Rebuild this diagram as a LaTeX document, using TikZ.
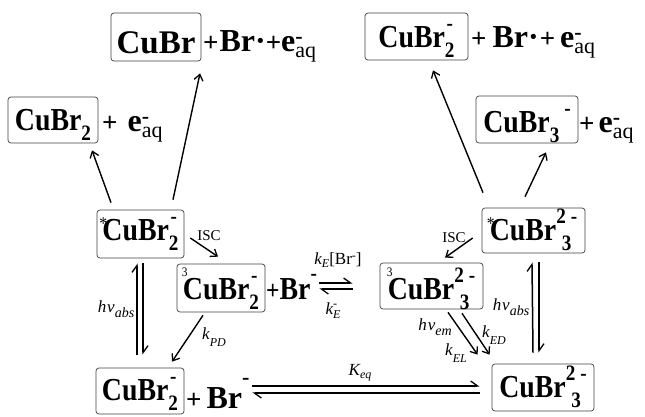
\documentclass[tikz,border=0pt]{standalone}
\usepackage{amsmath}
\usepackage{fontspec}
\setmainfont{Liberation Serif}
\newfontfamily\chemf{Liberation Serif}[FakeStretch=0.87]
\newfontfamily\chemw{Liberation Serif}
\usetikzlibrary{arrows.meta,calc}

\newcommand\chfont{\chemf\bfseries\fontsize{32}{32}\selectfont}
\newcommand\plfont{\chemw\bfseries\fontsize{32}{32}\selectfont}
\newcommand\scf{\fontsize{22}{22}\selectfont}
\newcommand\pl{{\fontsize{27}{27}\selectfont+}}
\newbox\stka \newbox\stkb \newdimen\stkw
\newcommand\sbsp[2]{%
 \setbox\stka\hbox{\scf #1}\setbox\stkb\hbox{\scf #2}%
 \stkw=\wd\stka \ifdim\wd\stkb>\stkw \stkw=\wd\stkb\fi
 \rlap{\raisebox{-10pt}{\hbox to\stkw{\hss\unhcopy\stka\hss}}}%
 \raisebox{17pt}{\hbox to\stkw{\hss\unhcopy\stkb\hss}}}
\newcommand\prestar{\makebox[0pt][l]{\kern-3pt\raisebox{11pt}{\fontsize{18}{18}\selectfont\mdseries *}}}
\newcommand\prethree{\makebox[0pt][l]{\kern-1pt\raisebox{23pt}{\fontsize{13}{13}\selectfont\mdseries 3}}}
\newcommand\eaq{e\rlap{\raisebox{8pt}{\scf -}}\raisebox{-6pt}{\scf\mdseries aq}}
\newcommand\lsc[1]{{\fontsize{12}{12}\selectfont #1}}

\tikzset{
  bx/.style={draw=black!75, line width=0.7pt, rounded corners=3pt, inner sep=0pt, font=\chfont},
  ptxt/.style={anchor=base west, inner sep=0pt, font=\plfont},
  lbl/.style={inner sep=0pt, font=\fontsize{17}{17}\selectfont\itshape},
  isc/.style={inner sep=0pt, font=\fontsize{15}{15}\selectfont},
  arr/.style={line width=1.4pt, -{Straight Barb[length=6pt,width=9pt,line width=1.3pt]}},
  harp/.style={line width=1.5pt, -{Straight Barb[harpoon,length=7pt,width=10pt,line width=1.3pt]}},
}

\begin{document}
\begin{tikzpicture}[x=1pt,y=-1pt]
\useasboundingbox (0,0) rectangle (645,416);

% boxes
\node[bx, font=\plfont\fontsize{33}{33}\selectfont, minimum width=90pt, text height=40pt, text depth=8pt] (b1) at (156,37) {CuBr};
\node[bx, minimum width=90pt, text height=33pt, text depth=13pt] (b2) at (53,120) {CuBr\raisebox{-10pt}{\scf 2}};
\node[bx, minimum width=103pt, text height=34pt, text depth=13pt] (b3) at (416.5,36.5) {CuBr\sbsp{2}{-}};
\node[bx, minimum width=102pt, text height=36pt, text depth=11pt] (b4) at (527,119.5) {CuBr\raisebox{-10pt}{\scf 3}\kern5pt\raisebox{17pt}{\scf -}};
\node[bx, minimum width=87pt, text height=30pt, text depth=18pt] (b5) at (140.5,234) {\prestar CuBr\sbsp{2}{-}};
\node[bx, minimum width=88pt, text height=35pt, text depth=13pt] (b6) at (221,288) {\prethree CuBr\sbsp{2}{-}};
\node[bx, minimum width=103pt, text height=36pt, text depth=10pt] (b7) at (431.5,286) {\prethree CuBr\sbsp{3}{2\kern5pt-}};
\node[bx, minimum width=103pt, text height=32pt, text depth=13pt] (b8) at (533.5,230.5) {\prestar CuBr\sbsp{3}{2\kern5pt-}};
\node[bx, minimum width=88pt, text height=32pt, text depth=14pt] (b9) at (140,391) {CuBr\sbsp{2}{-}};
\node[bx, minimum width=102pt, text height=33pt, text depth=14pt] (b10) at (543,387.5) {CuBr\sbsp{3}{2\kern5pt-}};

% side texts
\node[ptxt] (t1) at (203,51) {\pl\kern1pt Br·\pl\eaq};
\node[ptxt] (t2) at (102,131) {\pl\kern10pt\eaq};
\node[ptxt] (t3) at (471,47) {\pl\kern6pt Br·\kern1pt\pl\kern5pt\eaq};
\node[ptxt] (t4) at (579,132) {\pl\kern4pt\eaq};
\node[ptxt, font=\chfont] (t6) at (266,299) {\pl Br\raisebox{19pt}{\scf -}};
\node[ptxt] (t9) at (186,408) {\pl\kern5pt Br\raisebox{24pt}{\scf -}};

% labels
\node[isc] (l1) at (209,236) {ISC};
\node[isc] (l2) at (454,238) {ISC};
\node[lbl] (l3) at (338,260) {k\raisebox{-3pt}{\lsc{E}}\upshape[Br\raisebox{5pt}{\lsc{-}}]};
\node[lbl] (l4) at (333,311) {k\rlap{\raisebox{7pt}{\lsc{\upshape -}}}\raisebox{-4pt}{\lsc{E}}};
\node[lbl] (l5) at (116,309) {h\kern1pt ν\raisebox{-5pt}{\fontsize{14}{14}\selectfont abs}};
\node[lbl] (l6) at (511,307) {h\kern1pt ν\raisebox{-5pt}{\fontsize{14}{14}\selectfont abs}};
\node[lbl] (l7) at (214,337) {k\raisebox{-7pt}{\lsc{PD}}};
\node[lbl] (l8) at (435,327) {h\kern1pt ν\raisebox{-5pt}{\fontsize{14}{14}\selectfont em}};
\node[lbl] (l9) at (456,353) {k\raisebox{-7pt}{\lsc{EL}}};
\node[lbl] (l10) at (494,335) {k\raisebox{-7pt}{\lsc{ED}}};
\node[lbl] (l11) at (360,373) {K\raisebox{-3pt}{\lsc{eq}}};

% arrows
\draw[arr] ($(b5.north)+(-29.5,-7)$) -- ($(b2.south)+(39,7)$);
\draw[arr] ($(b5.north)+(32.5,-10)$) -- ($(b1.south)+(44,12)$);
\draw[arr] ($(b5.east)+(6,4)$) -- ($(b6.north)+(-3,-7)$);
\draw[harp] ($(b9.north)+(-3,-13)$) -- ($(b5.south)+(-3.5,5)$);
\draw[harp] ($(b5.south)+(2.5,5)$) -- ($(b9.north)+(3,-13)$);
\draw[arr] ($(b6.south)+(-18,3)$) -- ($(b9.north)+(32,-6)$);
\draw[harp] ($(b6.east)+(54,-5)$) -- ($(b7.west)+(-27,-3)$);
\draw[harp] ($(b7.west)+(-27,3)$) -- ($(b6.east)+(54,1)$);
\draw[harp] ($(b9.east)+(68,-5)$) -- ($(b10.west)+(-12,-1.5)$);
\draw[harp] ($(b10.west)+(-12,5.5)$) -- ($(b9.east)+(68,2)$);
\draw[arr] ($(b8.west)+(-9,7.5)$) -- ($(b7.north)+(13.5,-5)$);
\draw[arr] ($(b8.north)+(-50.5,-15)$) -- ($(b3.south)+(16.5,10)$);
\draw[arr] ($(b8.north)+(-8.5,-11)$) -- ($(b4.south)+(19,9)$);
\draw[harp] ($(b10.north)+(-10,-11)$) -- ($(b8.south)+(-1.5,9)$);
\draw[harp] ($(b8.south)+(5.5,9)$) -- ($(b10.north)+(-4,-11)$);
\draw[arr] ($(b7.south)+(16.5,3)$) -- ($(b10.north west)+(-14,-9)$);
\draw[arr] ($(b7.south)+(30.5,4)$) -- ($(b10.north west)+(-2,-9)$);
\end{tikzpicture}
\end{document}
